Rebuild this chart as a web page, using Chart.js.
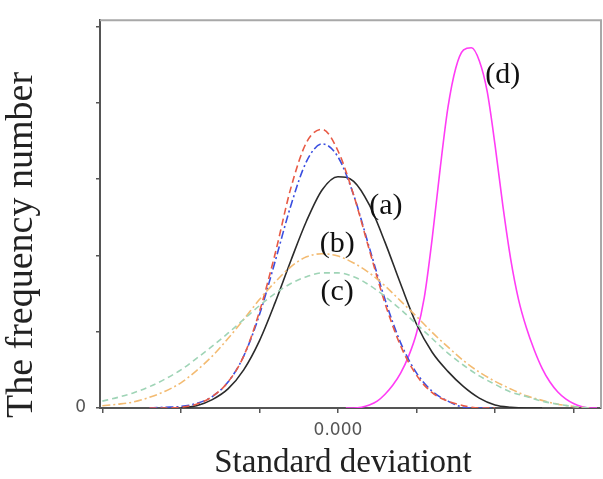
<!DOCTYPE html>
<html>
<head>
<meta charset="utf-8">
<script src="https://cdn.jsdelivr.net/npm/chart.js@4.4.0/dist/chart.umd.min.js"></script>
<style>
  html, body { margin: 0; padding: 0; background: #fff; }
  #wrap { width: 603px; height: 479px; }
</style>
</head>
<body>
<div id="wrap"><canvas id="grafico" width="603" height="479"></canvas></div>
<script>
// valores (eixo x em desvios padrao)
const desvios = [-3.0, -2.8, -2.6, -2.4, -2.2, -2.0, -1.8, -1.6, -1.4, -1.2, -1.0, -0.8, -0.6, -0.4, -0.2, 0,
                 0.2, 0.4, 0.6, 0.8, 1.0, 1.2, 1.4, 1.6, 1.8, 2.0, 2.2, 2.4, 2.6, 2.8, 3.0, 3.2];

const curvaA = [null, null, null, null, null, 0, 0.03, 0.11, 0.25, 0.50, 0.88, 1.38, 1.93, 2.45, 2.86, 3.03,
                2.97, 2.66, 2.17, 1.62, 1.10, 0.73, 0.48, 0.28, 0.13, 0.04, 0.01, 0, 0, null, null, null];
const curvaVermelha = [null, null, null, 0, 0, 0.01, 0.05, 0.15, 0.34, 0.68, 1.26, 2.02, 2.88, 3.48, 3.65, 3.37,
                       2.79, 2.07, 1.37, 0.81, 0.43, 0.20, 0.09, 0.03, 0, 0, null, null, null, null, null, null];
const curvaAzul = [null, null, null, 0, 0.01, 0.02, 0.06, 0.15, 0.34, 0.68, 1.22, 1.92, 2.65, 3.23, 3.46, 3.29,
                   2.79, 2.10, 1.42, 0.85, 0.46, 0.22, 0.09, 0.01, 0, 0, null, null, null, null, null, null];
const curvaB = [0.03, 0.05, 0.08, 0.14, 0.22, 0.33, 0.49, 0.68, 0.91, 1.16, 1.42, 1.65, 1.85, 1.98, 2.02, 1.99,
                1.90, 1.77, 1.60, 1.40, 1.20, 0.99, 0.80, 0.62, 0.47, 0.35, 0.25, 0.16, 0.10, 0.05, 0.02, 0];
const curvaC = [0.09, 0.14, 0.20, 0.28, 0.38, 0.50, 0.65, 0.81, 0.98, 1.16, 1.34, 1.50, 1.63, 1.72, 1.77, 1.77,
                1.72, 1.61, 1.46, 1.29, 1.10, 0.91, 0.72, 0.56, 0.42, 0.31, 0.21, 0.15, 0.09, 0.05, 0.02, 0];

const desviosD = [0.1, 0.2, 0.3, 0.4, 0.5, 0.6, 0.7, 0.8, 0.9, 1.0, 1.1, 1.2, 1.3, 1.4, 1.5, 1.6, 1.7,
                  1.8, 1.9, 2.0, 2.1, 2.2, 2.3, 2.4, 2.5, 2.6, 2.7, 2.8, 2.9, 3.0, 3.1, 3.2, 3.3];
const curvaD = [0, 0, 0.01, 0.04, 0.09, 0.18, 0.30, 0.46, 0.68, 0.98, 1.45, 2.22, 3.12, 3.93, 4.45, 4.69, 4.72,
                4.55, 4.15, 3.45, 2.65, 1.95, 1.42, 1.05, 0.76, 0.52, 0.34, 0.21, 0.12, 0.06, 0.02, 0, 0];

const ticksX = [-3, -2, -1, 0, 1, 2, 3];
const ticksY = [0, 1, 2, 3, 4, 5];
const rotulos = ['(a)', '(b)', '(c)', '(d)'];
const tituloX = 'Standard deviationt';
const tituloY = 'The frequency number';

// onde cada rotulo fica, em unidades dos eixos
const posRotulos = [[0.61, 2.65], [-0.01, 2.15], [-0.01, 1.52], [2.1, 4.36]];

function pontos(xs, ys) {
  return xs.map((x, i) => ({ x: x, y: ys[i] }));
}

function serie(dados, cor, tracejado) {
  return {
    data: dados,
    borderColor: cor,
    borderWidth: 1.6,
    borderDash: tracejado,
    pointRadius: 0,
    cubicInterpolationMode: 'monotone',
    fill: false
  };
}

// moldura de cima/direita, rotulos das curvas e titulos dos eixos
const moldura = {
  id: 'moldura',
  afterDraw(chart) {
    const { ctx, chartArea: a, scales } = chart;
    ctx.save();
    ctx.strokeStyle = '#a8a8a8';
    ctx.lineWidth = 2;
    ctx.beginPath();
    ctx.moveTo(a.left, a.top);
    ctx.lineTo(a.right, a.top);
    ctx.lineTo(a.right, a.bottom);
    ctx.stroke();

    ctx.fillStyle = '#111';
    ctx.font = '30px "Liberation Serif"';
    ctx.textAlign = 'center';
    ctx.textBaseline = 'middle';
    rotulos.forEach((r, i) => {
      ctx.fillText(r, scales.x.getPixelForValue(posRotulos[i][0]), scales.y.getPixelForValue(posRotulos[i][1]));
    });

    ctx.fillStyle = '#222';
    ctx.textBaseline = 'alphabetic';
    ctx.font = '33px "Liberation Serif"';
    ctx.fillText(tituloX, 343, 472);

    ctx.font = '38px "Liberation Serif"';
    ctx.translate(32, 245);
    ctx.rotate(-Math.PI / 2);
    ctx.fillText(tituloY, 0, 0);
    ctx.restore();
  }
};

function criarGrafico() {
  const ctx = document.getElementById('grafico').getContext('2d');

  new Chart(ctx, {
    type: 'line',
    data: {
      datasets: [
        serie(pontos(desvios, curvaC), '#9fd4b6', [6, 4]),
        serie(pontos(desvios, curvaB), '#f3bb72', [8, 3, 2, 3]),
        serie(pontos(desvios, curvaVermelha), '#e85a45', [7, 4]),
        serie(pontos(desvios, curvaAzul), '#3b4fe0', [8, 3, 2, 3]),
        serie(pontos(desvios, curvaA), '#2b2b2b', []),
        serie(pontos(desviosD, curvaD), '#ff3cf5', [])
      ]
    },
    options: {
      responsive: false,
      animation: false,
      devicePixelRatio: 1,
      layout: { padding: { top: 12, right: 2, left: 0, bottom: 0 } },
      plugins: { legend: { display: false }, tooltip: { enabled: false } },
      scales: {
        x: {
          type: 'linear',
          min: -3.03,
          max: 3.35,
          afterBuildTicks: s => { s.ticks = ticksX.map(v => ({ value: v })); },
          afterFit: s => { s.height = 71; },
          ticks: {
            callback: v => (v === 0 ? '0.000' : ''),
            font: { family: 'DejaVu Sans', size: 17 },
            color: '#555',
            padding: 7,
            maxRotation: 0
          },
          grid: { drawOnChartArea: false, drawTicks: true, tickLength: 5, color: '#555', lineWidth: 1.5 },
          border: { display: true, color: '#555', width: 2 }
        },
        y: {
          min: 0,
          max: 5.08,
          afterBuildTicks: s => { s.ticks = ticksY.map(v => ({ value: v })); },
          afterFit: s => { s.width = 100; },
          ticks: {
            callback: v => (v === 0 ? '0' : ''),
            font: { family: 'DejaVu Sans', size: 17 },
            color: '#555',
            padding: 10
          },
          grid: { drawOnChartArea: false, drawTicks: true, tickLength: 4, color: '#555', lineWidth: 1.5 },
          border: { display: true, color: '#555', width: 2 }
        }
      }
    },
    plugins: [moldura]
  });
}

window.onload = () => {
  criarGrafico();
};
</script>
</body>
</html>
